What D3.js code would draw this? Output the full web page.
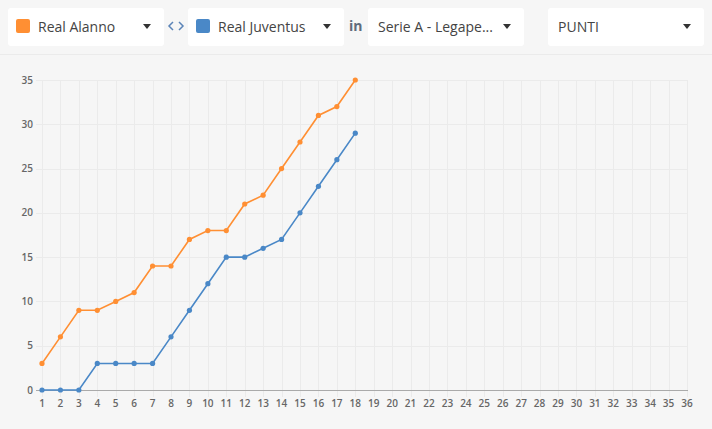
<!DOCTYPE html>
<html>
<head>
<meta charset="utf-8">
<title>Real Alanno vs Real Juventus</title>
<script src="https://d3js.org/d3.v7.min.js"></script>
<style>
  html, body { margin: 0; padding: 0; background: #f6f6f6; }
  body { width: 712px; height: 429px; overflow: hidden; font-family: "Open Sans", sans-serif; }
  svg { display: block; }
  .grid line { stroke: #ebebeb; stroke-width: 1px; shape-rendering: crispEdges; }
  .tick-label { font: 600 10px "Open Sans", sans-serif; fill: #666; }
  .sel-text { font: 14px "Open Sans", sans-serif; fill: #444; }
</style>
</head>
<body>
<svg width="712" height="429"></svg>
<script>
const rounds = d3.range(1, 37);
const yTicks = [0, 5, 10, 15, 20, 25, 30, 35];
const alanno = [3, 6, 9, 9, 10, 11, 14, 14, 17, 18, 18, 21, 22, 25, 28, 31, 32, 35];
const juventus = [0, 0, 0, 3, 3, 3, 3, 6, 9, 12, 15, 15, 16, 17, 20, 23, 26, 29];
const teamA = "Real Alanno", teamB = "Real Juventus";
const league = "Serie A - Legape...";
const metric = "PUNTI";
const colorA = "#ff8f33", colorB = "#4a88c7";

const svg = d3.select("svg");

// header selectors
const header = svg.append("g");
header.append("line")
  .attr("x1", 0).attr("x2", 712).attr("y1", 54.5).attr("y2", 54.5)
  .attr("stroke", "#ebebeb");

const boxes = [
  { x: 8, text: teamA, color: colorA },
  { x: 188, text: teamB, color: colorB },
  { x: 368, text: league },
  { x: 548, text: metric }
];
const box = header.selectAll(".sel").data(boxes).enter().append("g")
  .attr("class", "sel")
  .attr("transform", d => `translate(${d.x},8)`);
box.append("rect")
  .attr("width", 156).attr("height", 38).attr("rx", 3)
  .attr("fill", "#fff");
box.filter(d => d.color).append("rect")
  .attr("x", 8).attr("y", 11).attr("width", 14).attr("height", 14).attr("rx", 2)
  .attr("fill", d => d.color);
box.append("text")
  .attr("class", "sel-text")
  .attr("x", d => d.color ? 30 : 10)
  .attr("y", 24)
  .text(d => d.text);
box.append("path")
  .attr("d", "M135,16l8,0l-4,5z")
  .attr("fill", "#333");

// swap icon
header.append("path")
  .attr("d", "M173,22l-4,4l4,4M179,22l4,4l-4,4")
  .attr("fill", "none")
  .attr("stroke", "#5b84b8")
  .attr("stroke-width", 1.5);
header.append("text")
  .attr("x", 349).attr("y", 31)
  .style("font", "700 14px 'Open Sans', sans-serif")
  .attr("fill", "#5f6b7c")
  .text("in");

// chart
const x = d3.scaleLinear().domain([1, 36]).range([42, 687]);
const y = d3.scaleLinear().domain([0, 35]).range([390, 80]);

const grid = svg.append("g").attr("class", "grid");
grid.selectAll(".v").data(rounds).enter().append("line")
  .attr("x1", d => Math.round(x(d)) + 0.5).attr("x2", d => Math.round(x(d)) + 0.5)
  .attr("y1", y(35)).attr("y2", 397);
grid.selectAll(".h").data(yTicks).enter().append("line")
  .attr("x1", 36).attr("x2", 688)
  .attr("y1", d => Math.round(y(d)) + 0.5).attr("y2", d => Math.round(y(d)) + 0.5);

svg.append("line")
  .attr("x1", 36).attr("x2", 688)
  .attr("y1", y(0) + 0.5).attr("y2", y(0) + 0.5)
  .attr("stroke", "#aaa").attr("shape-rendering", "crispEdges");

svg.append("g").selectAll("text").data(yTicks).enter().append("text")
  .attr("class", "tick-label")
  .attr("x", 33).attr("y", d => y(d))
  .attr("dy", "0.35em")
  .attr("text-anchor", "end")
  .text(d => d);

svg.append("g").selectAll("text").data(rounds).enter().append("text")
  .attr("class", "tick-label")
  .attr("x", d => x(d)).attr("y", 407)
  .attr("text-anchor", "middle")
  .text(d => d);

const line = d3.line()
  .x((d, i) => x(i + 1))
  .y(d => y(d));

[[alanno, colorA], [juventus, colorB]].forEach(([vals, c]) => {
  svg.append("path")
    .datum(vals)
    .attr("d", line)
    .attr("fill", "none")
    .attr("stroke", c)
    .attr("stroke-width", 1.6);
  svg.append("g").selectAll("circle").data(vals).enter().append("circle")
    .attr("cx", (d, i) => x(i + 1))
    .attr("cy", d => y(d))
    .attr("r", 2.6)
    .attr("fill", c);
});
</script>
</body>
</html>
